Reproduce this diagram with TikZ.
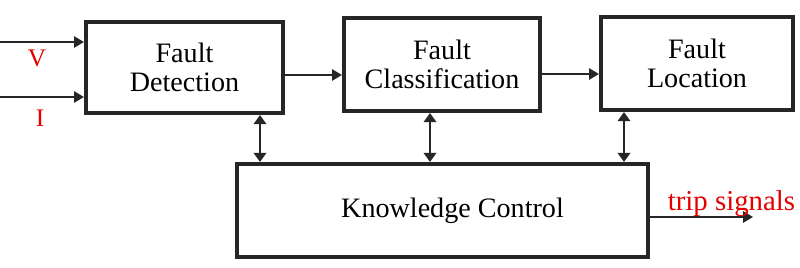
\documentclass[tikz,border=0pt]{standalone}
\usepackage{fontspec}
\setmainfont{Liberation Serif}
\usetikzlibrary{arrows.meta}

\tikzset{
  block/.style={draw=black!85, line width=2.9pt, fill=white, inner sep=0pt,
    align=center, font=\fontsize{20}{21}\selectfont},
  link/.style={black!85, line width=1.3pt, -{Triangle[length=7pt,width=8pt]}},
  duplex/.style={link, {Triangle[length=6.5pt,width=9pt]}-{Triangle[length=6.5pt,width=9pt]}},
  sig/.style={text=red!90!black, font=\fontsize{18}{20}\selectfont, inner sep=0pt}
}

\begin{document}
\begin{tikzpicture}[x=0.025cm, y=-0.025cm]
\useasboundingbox (0,0) rectangle (800,268);

% --- bloques ---
\node[block, minimum width=4.925cm, minimum height=2.275cm] (fd) at (184.5,67.5) {Fault\\Detection};
\node[block, minimum width=4.9cm, minimum height=2.325cm] (fc) at (442,64.5) {Fault\\Classification};
\node[block, minimum width=4.8cm, minimum height=2.325cm] (fl) at (697,63.5) {Fault\\Location};
\node[block, minimum width=10.275cm, minimum height=2.325cm] (kc) at (442.5,210.5) {\hspace*{0.5cm}Knowledge Control};

% --- entradas V e I ---
\coordinate (vin) at (0,42);
\coordinate (iin) at (0,97);
\draw[link] (vin) -- (vin -| fd.west);
\draw[link] (iin) -- (iin -| fd.west);
\node[sig] (vlab) at (37,58) {V};
\node[sig] (ilab) at (40,118) {I};

% --- cadena de bloques ---
\coordinate (row1) at (0,75);
\coordinate (row2) at (0,74);
\draw[link] (row1 -| fd.east) -- (row1 -| fc.west);
\draw[link] (row2 -| fc.east) -- (row2 -| fl.west);

% --- enlaces con el control ---
\coordinate (col1) at (260,0);
\coordinate (col2) at (430,0);
\coordinate (col3) at (624,0);
\draw[duplex] (col1 |- fd.south) -- (col1 |- kc.north);
\draw[duplex] (col2 |- fc.south) -- (col2 |- kc.north);
\draw[duplex] (col3 |- fl.south) -- (col3 |- kc.north);

% --- salida ---
\coordinate (tripend) at (753,217);
\draw[link] (tripend -| kc.east) -- (tripend);
\node[sig, font=\fontsize{20.5}{22}\selectfont] (trip) at (731.5,204) {trip signals};

\end{tikzpicture}
\end{document}
